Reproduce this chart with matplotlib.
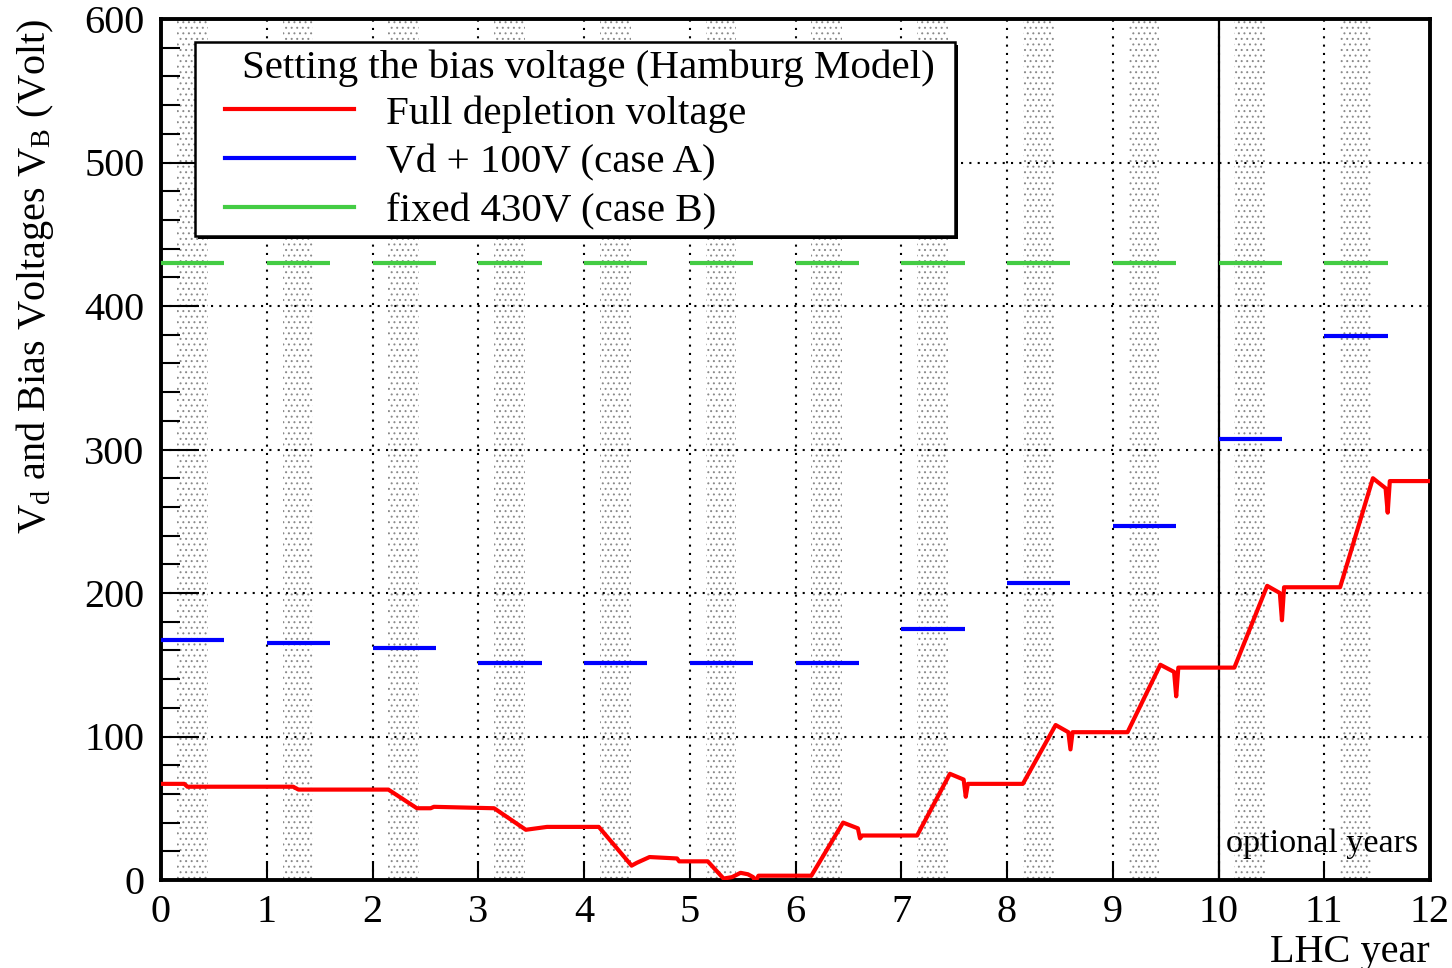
import numpy as np
import matplotlib
matplotlib.use("Agg")
import matplotlib.pyplot as plt
from matplotlib.lines import Line2D
from matplotlib.patches import Rectangle

plt.rcParams['font.family'] = ['Liberation Serif', 'DejaVu Serif']
plt.rcParams['mathtext.fontset'] = 'custom'
plt.rcParams['mathtext.rm'] = 'Liberation Serif'
plt.rcParams['mathtext.it'] = 'Liberation Serif:italic'
plt.rcParams['hatch.linewidth'] = 0.7

# full depletion voltage (Hamburg model), breakpoints read per LHC year
vd_year = [0.00, 0.22, 0.25, 1.25, 1.30, 2.15, 2.42, 2.55, 2.58, 3.15, 3.45, 3.65,
           4.14, 4.45, 4.50, 4.62, 4.88, 4.90, 5.17, 5.32, 5.40, 5.48, 5.55, 5.60,
           5.62, 5.65, 6.15, 6.45, 6.59, 6.61, 6.63, 7.15, 7.46, 7.59, 7.61, 7.63,
           8.15, 8.46, 8.58, 8.60, 8.62, 9.14, 9.45, 9.58, 9.60, 9.62, 10.15, 10.46,
           10.58, 10.60, 10.62, 11.15, 11.46, 11.58, 11.60, 11.62, 12.00]
vd_volt = [67, 67, 65, 65, 63, 63, 50, 50, 51, 50, 35, 37,
           37, 10, 12, 16, 15, 13, 13, 1, 2, 5, 4, 2,
           -1, 3, 3, 40, 36, 29, 31, 31, 74, 70, 58, 67,
           67, 108, 103, 91, 103, 103, 150, 145, 128, 148, 148, 205,
           200, 181, 204, 204, 280, 273, 256, 278, 278]

years = np.arange(12)
bias_a = [167, 165, 162, 151, 151, 151, 151, 175, 207, 247, 307, 379]
bias_b = [430] * 12
run_len = 0.6
beam_start, beam_end = 0.15, 0.44

W, H = 1452, 968
fig = plt.figure(figsize=(W / 100, H / 100), dpi=100)
ax = fig.add_axes([161 / W, 1 - 880 / H, 1269 / W, 861 / H])


def ax_frac(px, py):
    # pixel position in the figure -> axes fraction
    return (px - 161) / 1269, (880 - py) / 861


# dotted bands: beam periods
for y in years:
    ax.axvspan(y + beam_start, y + beam_end, facecolor='none', edgecolor='#8a8a8a',
               hatch='...', lw=0, zorder=0)

ax.grid(True, color='black', linestyle=(0, (1, 3)), lw=1.5, zorder=1)
ax.axvline(10, color='black', lw=1.6, zorder=2)

ax.plot(vd_year, vd_volt, color='#ff0000', lw=3.0, zorder=4)
ax.hlines(bias_a, years, years + run_len, color='#0000ff', lw=3.0, zorder=4)
ax.hlines(bias_b, years, years + run_len, color='#44cc44', lw=3.0, zorder=4)

ax.set_xlim(0, 12)
ax.set_ylim(0, 600)
ax.set_xticks(range(0, 13))
ax.set_yticks(range(0, 601, 100))
ax.set_yticks(range(0, 601, 20), minor=True)
ax.tick_params(axis='both', which='both', direction='in', labelsize=29, width=1.5)
ax.tick_params(axis='y', which='major', length=27, pad=12)
ax.tick_params(axis='y', which='minor', length=13.5)
ax.tick_params(axis='x', which='major', length=14, pad=10)
for s in ax.spines.values():
    s.set_linewidth(2.8)

ax.set_xlabel('LHC year', fontsize=29, loc='right', labelpad=2)
ax.set_ylabel(r'V$_{\rm d}$ and Bias Voltages V$_{\rm B}$ (Volt)', fontsize=29, loc='top')
ax.yaxis.set_label_coords(-0.083, 1.0)

ax.text(11.886, 25, 'optional years', fontsize=24.6, ha='right', va='center', zorder=5)

# legend box with a solid drop shadow
bx0, by1 = ax_frac(195, 42)
bx1, by0 = ax_frac(955, 236)
sx, sy = 3 / 1269, 3 / 861
ax.add_patch(Rectangle((bx0 + sx, by0 - sy), bx1 - bx0, by1 - by0, transform=ax.transAxes,
                       facecolor='black', edgecolor='black', lw=0, zorder=8, clip_on=False))
ax.add_patch(Rectangle((bx0, by0), bx1 - bx0, by1 - by0, transform=ax.transAxes,
                       facecolor='white', edgecolor='black', lw=1.8, zorder=9, clip_on=False))

tx, ty = ax_frac(588, 68)
ax.text(tx, ty, 'Setting the bias voltage (Hamburg Model)', transform=ax.transAxes,
        fontsize=29.5, ha='center', va='center', zorder=11)

handles = [Line2D([], [], color='#ff0000', lw=3.0),
           Line2D([], [], color='#0000ff', lw=3.0),
           Line2D([], [], color='#44cc44', lw=3.0)]
labels = ['Full depletion voltage', 'Vd + 100V (case A)', 'fixed 430V (case B)']
leg = ax.legend(handles, labels, loc='upper left', bbox_to_anchor=ax_frac(225, 95),
                borderaxespad=0, borderpad=0, fontsize=29.5, frameon=False,
                handlelength=3.15, handletextpad=0.78, labelspacing=0.27)
leg.set_zorder(11)

fig.savefig('out.png', dpi=100)
